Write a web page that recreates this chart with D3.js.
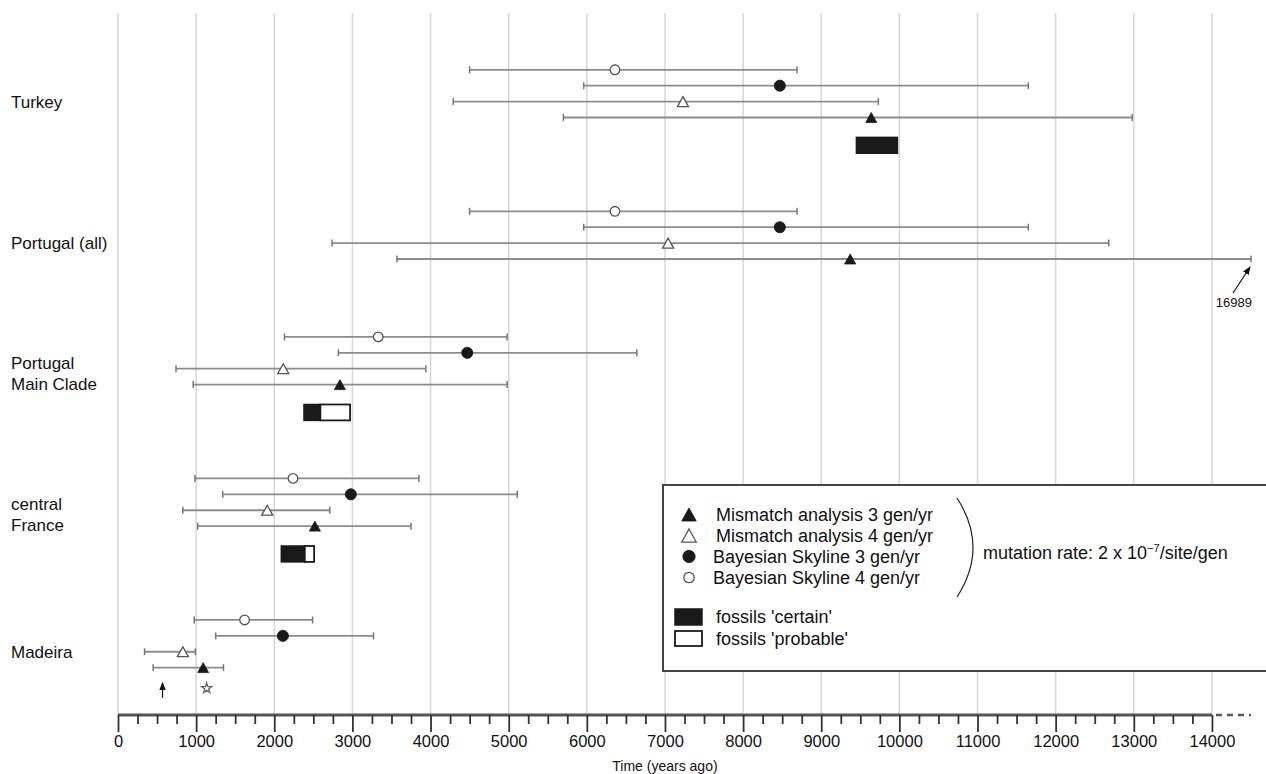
<!DOCTYPE html>
<html lang="en">
<head>
<meta charset="utf-8">
<title>Time (years ago)</title>
<script src="https://d3js.org/d3.v7.min.js"></script>
<style>
  body { margin: 0; background: #fff; }
  svg { display: block; font-family: "Liberation Sans", Arial, sans-serif; }
</style>
</head>
<body>
<script>
// groups, top to bottom
var groupLabels = [["Turkey"], ["Portugal (all)"], ["Portugal", "Main Clade"], ["central", "France"], ["Madeira"]];

// Bayesian Skyline 4 gen/yr (open circle)
var bs4Mid = [6360, 6360, 3330, 2240, 1620];
var bs4Lo  = [4500, 4500, 2130,  985,  975];
var bs4Hi  = [8690, 8690, 4980, 3850, 2490];
// Bayesian Skyline 3 gen/yr (filled circle)
var bs3Mid = [8470, 8470, 4470, 2980, 2110];
var bs3Lo  = [5960, 5960, 2820, 1340, 1250];
var bs3Hi  = [11650, 11650, 6640, 5110, 3270];
// Mismatch analysis 4 gen/yr (open triangle)
var mm4Mid = [7230, 7040, 2115, 1910, 830];
var mm4Lo  = [4290, 2740,  742,  830, 340];
var mm4Hi  = [9730, 12680, 3940, 2710, 990];
// Mismatch analysis 3 gen/yr (filled triangle)
var mm3Mid = [9640, 9370, 2840, 2520, 1090];
var mm3Lo  = [5700, 3570,  962, 1020,  450];
var mm3Hi  = [12980, 16989, 4980, 3750, 1350];

// fossil ranges
var fossilCertain  = [[9450, 9975], null, [2380, 2590], [2090, 2390], null];
var fossilProbable = [null, null, [2590, 2970], [2390, 2510], null];

// Madeira extra marks
var madeiraArrow = 570;
var madeiraStar = 1135;

var majorTicks = [0, 1000, 2000, 3000, 4000, 5000, 6000, 7000, 8000, 9000, 10000, 11000, 12000, 13000, 14000];
var xMax = 14500;

var series = [
  {name: "Bayesian Skyline 4 gen/yr", mid: bs4Mid, lo: bs4Lo, hi: bs4Hi, shape: "circle", filled: false},
  {name: "Bayesian Skyline 3 gen/yr", mid: bs3Mid, lo: bs3Lo, hi: bs3Hi, shape: "circle", filled: true},
  {name: "Mismatch analysis 4 gen/yr", mid: mm4Mid, lo: mm4Lo, hi: mm4Hi, shape: "triangle", filled: false},
  {name: "Mismatch analysis 3 gen/yr", mid: mm3Mid, lo: mm3Lo, hi: mm3Hi, shape: "triangle", filled: true}
];
var legendOrder = [3, 2, 1, 0];

var width = 1266, height = 774;
var axisY = 715;

var svg = d3.select("body").append("svg")
  .attr("width", width)
  .attr("height", height);

var x = d3.scaleLinear().domain([0, xMax]).range([118, 1251]);
// y in "row" units
var y = d3.scaleLinear().domain([0, 1]).range([69.8, 85.7]);

// row where each group starts
var groupStart = [];
var acc = 0;
groupLabels.forEach(function(g, i) {
  groupStart.push(acc);
  acc += series.length + (fossilCertain[i] ? 1 : 0) + 3.9;
});

// triangle centred on its box
var triType = {
  draw: function(ctx, size) {
    var w = Math.sqrt(size / 0.45), h = w * 0.9;
    ctx.moveTo(0, -h / 2);
    ctx.lineTo(w / 2, h / 2);
    ctx.lineTo(-w / 2, h / 2);
    ctx.closePath();
  }
};

function drawMarker(sel, s, cx, cy, big) {
  var sym = d3.symbol();
  if (s.shape == "circle") {
    sym.type(d3.symbolCircle).size(s.filled ? (big ? 120 : 98) : (big ? 85 : 72));
  } else {
    sym.type(triType).size(big ? 95 : 55);
  }
  sel.append("path")
    .attr("d", sym())
    .attr("transform", "translate(" + cx + "," + cy + ")")
    .attr("fill", s.filled ? "#1a1a1a" : "#fff")
    .attr("stroke", s.filled ? "#1a1a1a" : "#555")
    .attr("stroke-width", s.filled ? 0.8 : 1.3);
}

// grid lines
svg.append("g").selectAll("line")
  .data(majorTicks)
  .enter().append("line")
  .attr("x1", function(d) { return x(d); })
  .attr("x2", function(d) { return x(d); })
  .attr("y1", 13)
  .attr("y2", axisY)
  .attr("stroke", "#d6d6d6")
  .attr("stroke-width", 1.5);

// axis
var ax = svg.append("g").attr("transform", "translate(0," + axisY + ")");
ax.append("line")
  .attr("x1", x(0)).attr("x2", x(14000))
  .attr("stroke", "#555").attr("stroke-width", 3);
ax.append("line")
  .attr("x1", x(14000) + 4).attr("x2", x(xMax))
  .attr("stroke", "#555").attr("stroke-width", 2.5)
  .attr("stroke-dasharray", "6,5");

var minor = svg.append("g").attr("transform", "translate(0," + axisY + ")")
  .call(d3.axisBottom(x)
    .tickValues(d3.range(250, 14000, 250).filter(function(d) { return d % 1000 != 0; }))
    .tickSize(9).tickFormat(""));
minor.select(".domain").remove();
minor.selectAll("line").attr("stroke", "#333").attr("stroke-width", 1.8);

var major = svg.append("g").attr("transform", "translate(0," + axisY + ")")
  .call(d3.axisBottom(x).tickValues(majorTicks).tickSize(17).tickPadding(3).tickFormat(d3.format("d")));
major.select(".domain").remove();
major.selectAll("line").attr("stroke", "#333").attr("stroke-width", 1.8);
major.selectAll("text")
  .attr("font-family", "Liberation Sans, Arial, sans-serif")
  .attr("font-size", "16.5px")
  .attr("fill", "#111");

svg.append("text")
  .attr("x", x(7000))
  .attr("y", 771)
  .attr("text-anchor", "middle")
  .attr("font-size", "14px")
  .attr("fill", "#111")
  .text("Time (years ago)");

// legend
var lg = svg.append("g");
lg.append("rect")
  .attr("x", 663).attr("y", 485)
  .attr("width", 700).attr("height", 186)
  .attr("fill", "#fff")
  .attr("stroke", "#444")
  .attr("stroke-width", 2);

legendOrder.forEach(function(si, i) {
  var cy = 514.5 + i * 21;
  drawMarker(lg, series[si], 689, cy, true);
  lg.append("text")
    .attr("x", series[si].shape == "triangle" ? 716 : 713)
    .attr("y", cy + 6.5)
    .attr("font-size", "18px")
    .attr("fill", "#111")
    .text(series[si].name);
});

lg.append("path")
  .attr("d", "M957,498 Q989,547.5 957,597")
  .attr("fill", "none")
  .attr("stroke", "#222")
  .attr("stroke-width", 1.2);

var mt = lg.append("text")
  .attr("x", 983).attr("y", 559)
  .attr("font-size", "18px")
  .attr("fill", "#111");
mt.append("tspan").text("mutation rate: 2 x 10");
mt.append("tspan").attr("dy", -7).attr("font-size", "11px").text("\u22127");
mt.append("tspan").attr("dy", 7).text("/site/gen");

lg.append("rect")
  .attr("x", 675).attr("y", 609).attr("width", 27).attr("height", 16)
  .attr("fill", "#1a1a1a").attr("stroke", "#1a1a1a").attr("stroke-width", 1.5);
lg.append("rect")
  .attr("x", 675).attr("y", 631).attr("width", 27).attr("height", 15)
  .attr("fill", "#fff").attr("stroke", "#1a1a1a").attr("stroke-width", 1.8);
lg.append("text").attr("x", 716).attr("y", 622.5).attr("font-size", "18px").attr("fill", "#111").text("fossils 'certain'");
lg.append("text").attr("x", 716).attr("y", 644.5).attr("font-size", "18px").attr("fill", "#111").text("fossils 'probable'");

// arrow marker
var defs = svg.append("defs");
defs.append("marker")
  .attr("id", "ah")
  .attr("viewBox", "0 0 10 10")
  .attr("refX", 9).attr("refY", 5)
  .attr("markerWidth", 7).attr("markerHeight", 7)
  .attr("orient", "auto")
  .append("path").attr("d", "M0,1 L10,5 L0,9 Z").attr("fill", "#111");

// data groups
var plot = svg.append("g");
groupLabels.forEach(function(lab, gi) {
  var g0 = groupStart[gi];

  // label
  var ly = lab.length == 1 ? y(g0 + 2) + 6 : y(g0 + 2);
  lab.forEach(function(line, li) {
    plot.append("text")
      .attr("x", 11)
      .attr("y", ly + li * 21)
      .attr("font-size", "17px")
      .attr("fill", "#111")
      .text(line);
  });

  series.forEach(function(s, si) {
    var cy = y(g0 + si);
    var x1 = x(s.lo[gi]), x2 = x(Math.min(s.hi[gi], xMax));
    plot.append("line")
      .attr("x1", x1).attr("x2", x2).attr("y1", cy).attr("y2", cy)
      .attr("stroke", "#8c8c8c").attr("stroke-width", 1.8);
    [x1, x2].forEach(function(cx) {
      plot.append("line")
        .attr("x1", cx).attr("x2", cx).attr("y1", cy - 3.5).attr("y2", cy + 3.5)
        .attr("stroke", "#777").attr("stroke-width", 1.5);
    });
    drawMarker(plot, s, x(s.mid[gi]), cy, false);

    if (s.hi[gi] > xMax) {
      plot.append("line")
        .attr("x1", x2 - 18).attr("y1", cy + 34)
        .attr("x2", x2 - 1).attr("y2", cy + 8)
        .attr("stroke", "#111").attr("stroke-width", 1.2)
        .attr("marker-end", "url(#ah)");
      plot.append("text")
        .attr("x", x2 + 1).attr("y", cy + 48)
        .attr("text-anchor", "end")
        .attr("font-size", "13px")
        .attr("fill", "#111")
        .text(s.hi[gi]);
    }
  });

  var fy0 = y(g0 + 4.25), fy1 = y(g0 + 5.25);
  if (fossilCertain[gi]) {
    plot.append("rect")
      .attr("x", x(fossilCertain[gi][0])).attr("y", fy0)
      .attr("width", x(fossilCertain[gi][1]) - x(fossilCertain[gi][0]))
      .attr("height", fy1 - fy0)
      .attr("fill", "#1a1a1a").attr("stroke", "#1a1a1a").attr("stroke-width", 1.5);
  }
  if (fossilProbable[gi]) {
    plot.append("rect")
      .attr("x", x(fossilProbable[gi][0])).attr("y", fy0)
      .attr("width", x(fossilProbable[gi][1]) - x(fossilProbable[gi][0]))
      .attr("height", fy1 - fy0)
      .attr("fill", "#fff").attr("stroke", "#1a1a1a").attr("stroke-width", 1.8);
  }

  if (lab[0] == "Madeira") {
    plot.append("line")
      .attr("x1", x(madeiraArrow)).attr("x2", x(madeiraArrow))
      .attr("y1", y(g0 + 4.9)).attr("y2", y(g0 + 3.95))
      .attr("stroke", "#111").attr("stroke-width", 1.2)
      .attr("marker-end", "url(#ah)");
    plot.append("path")
      .attr("d", d3.symbol().type(d3.symbolStar).size(32)())
      .attr("transform", "translate(" + x(madeiraStar) + "," + y(g0 + 4.3) + ")")
      .attr("fill", "#fff").attr("stroke", "#666").attr("stroke-width", 1.3);
  }
});
</script>
</body>
</html>
